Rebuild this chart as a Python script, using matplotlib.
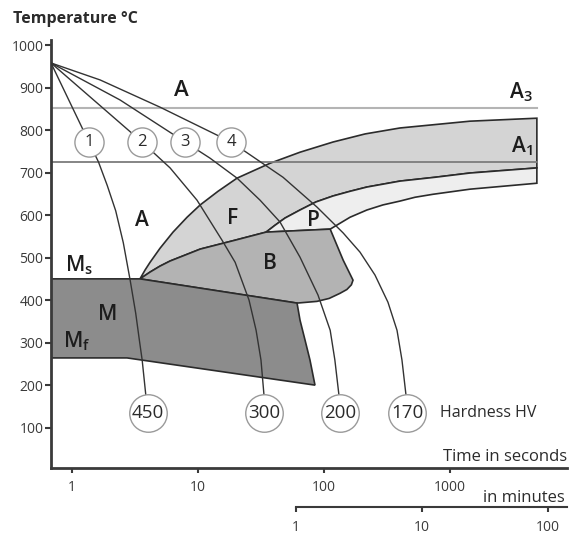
import matplotlib
matplotlib.use('Agg')
import matplotlib.pyplot as plt

plt.rcParams['font.family'] = ['Open Sans', 'DejaVu Sans']
plt.rcParams['mathtext.default'] = 'regular'

# --- data: time in s, temperature in degC ---
t_start, T_start = 0.68, 958

curve1_t = [t_start, 1.36, 1.62, 1.90, 2.22, 2.55, 2.89, 3.20, 3.42, 3.60, 3.85, 4.01]
curve1_T = [T_start, 772, 725, 670, 610, 535, 447, 369, 306, 259, 176, 134]
curve2_t = [t_start, 3.59, 6.0, 9.82, 15.5, 19.7, 25.4, 28.9, 31.6, 33.4, 33.4]
curve2_T = [T_start, 772, 711, 635, 541, 489, 400, 329, 259, 176, 134]
curve3_t = [t_start, 2.40, 7.88, 12.45, 20.4, 31.1, 44.7, 64.5, 89.6, 112, 122, 131.5, 134]
curve3_T = [T_start, 871, 772, 734, 687, 635, 584, 501, 412, 329, 259, 176, 134]
curve4_t = [t_start, 1.67, 4.99, 18.3, 22.8, 47.3, 87.9, 142, 193, 254, 322, 380, 416, 448, 456]
curve4_T = [T_start, 918, 854, 772, 753, 689, 619, 558, 513, 459, 395, 329, 259, 176, 134]

curve_labels = ['1', '2', '3', '4']
curve_label_t = [1.36, 3.59, 7.88, 18.3]
curve_label_T = 772

hardness = ['450', '300', '200', '170']
hardness_t = [4.01, 33.4, 134, 456]
hardness_T = 134

A3_temp = 852
A1_temp = 725
t_end = 4900

# ferrite start (upper edge of band)
fs_t = [3.46, 3.80, 4.16, 4.99, 6.33, 8.18, 10.4, 14.4, 20.4, 28.3, 37.3, 64.5, 118,
        212, 401, 1442, 4900]
fs_T = [450, 471, 489, 522, 560, 595, 624, 656, 687, 706, 722, 748, 772,
        791, 805, 821, 828]
# pearlite start
ps_t = [34.7, 40.8, 49.0, 64.5, 86.4, 118, 161, 219, 401, 761, 1442, 4900]
ps_T = [560, 576, 593, 612, 631, 645, 656, 666, 680, 689, 699, 711]
# pearlite finish
pf_t = [112, 161, 219, 294, 401, 528, 733, 1442, 4900]
pf_T = [567, 595, 612, 624, 633, 642, 649, 661, 675]
# bainite upper edge
bt_t = [3.46, 4.16, 4.99, 6.0, 10.4, 19.7, 34.7, 112]
bt_T = [450, 466, 480, 492, 520, 541, 560, 567]
# bainite right edge down to martensite corner
br_t = [112, 142, 170, 165, 152, 134, 110, 87.9, 61.1]
br_T = [567, 494, 447, 436, 425, 416, 404, 397, 393]
# martensite region
Ms_temp = 450
Mf_temp = 264
m_top_t = [3.46, 61.1]
m_top_T = [450, 393]
m_right_t = [61.1, 64.5, 70.7, 77.4, 84.8]
m_right_T = [393, 353, 306, 259, 200]
m_bot_t = [84.8, 2.73]
m_bot_T = [200, 264]

xmin, xmax = 0.68, 8500
edge = '#2b2b2b'
txt = '#2b2b2b'
lab_col = '#1c1c1c'

fig = plt.figure(figsize=(5.71, 5.34), dpi=100)
ax = fig.add_axes([51 / 571, 66 / 534, 516 / 571, 428 / 534])
ax.set_xscale('log')
ax.set_xlim(xmin, xmax)
ax.set_ylim(5, 1012)

# ferrite band: ferrite start, right edge, pearlite start back, bainite top back
n_bt = bt_t.index(34.7) + 1
band_t = fs_t + ps_t[::-1] + bt_t[:n_bt][::-1]
band_T = fs_T + ps_T[::-1] + bt_T[:n_bt][::-1]
ax.fill(band_t, band_T, facecolor='#d4d4d4', edgecolor=edge, lw=1.2, zorder=1)

# pearlite region
p_t = ps_t + pf_t[::-1] + [ps_t[0]]
p_T = ps_T + pf_T[::-1] + [ps_T[0]]
ax.fill(p_t, p_T, facecolor='#eeeeee', edgecolor=edge, lw=1.2, zorder=1)

# bainite
b_t = bt_t + br_t[1:] + m_top_t[::-1]
b_T = bt_T + br_T[1:] + m_top_T[::-1]
ax.fill(b_t, b_T, facecolor='#b3b3b3', edgecolor=edge, lw=1.2, zorder=1.2)

# martensite
m_t = [xmin] + m_top_t + m_right_t[1:] + m_bot_t[1:] + [xmin]
m_T = [Ms_temp] + m_top_T + m_right_T[1:] + m_bot_T[1:] + [Mf_temp]
ax.fill(m_t, m_T, facecolor='#8c8c8c', edgecolor=edge, lw=1.2, zorder=1.4)

# A3 / A1
ax.plot([xmin, t_end], [A3_temp, A3_temp], color='#b4b4b4', lw=1.5, zorder=2)
ax.plot([xmin, t_end], [A1_temp, A1_temp], color='#7c7c7c', lw=1.3, zorder=2)

# cooling curves
for ct, cT in [(curve1_t, curve1_T), (curve2_t, curve2_T),
               (curve3_t, curve3_T), (curve4_t, curve4_T)]:
    ax.plot(ct, cT, color='#333333', lw=1.0, zorder=3, solid_joinstyle='round')

for lab, t in zip(curve_labels, curve_label_t):
    ax.plot(t, curve_label_T, 'o', ms=21, mfc='white', mec='#9a9a9a', mew=1.0, zorder=4)
    ax.text(t, curve_label_T, lab, ha='center', va='center', fontsize=12, color=txt, zorder=5)

for lab, t in zip(hardness, hardness_t):
    ax.plot(t, hardness_T, 'o', ms=27, mfc='white', mec='#9a9a9a', mew=1.0, zorder=4)
    ax.text(t, hardness_T, lab, ha='center', va='center', fontsize=13.5, color=txt, zorder=5)
ax.text(833, hardness_T, 'Hardness HV', ha='left', va='center', fontsize=11.5, color=txt)

# region labels
big = dict(fontsize=15, color=lab_col, ha='center', va='center', fontweight='semibold')
ax.text(7.33, 894, 'A', fontsize=16, color=lab_col, ha='center', va='center',
        fontweight='semibold')
ax.text(3.6, 588, 'A', **big)
ax.text(18.9, 591, 'F', **big)
ax.text(81.8, 588, 'P', **big)
ax.text(37.3, 485, 'B', **big)
ax.text(1.90, 365, 'M', **big)
sub = dict(fontsize=15, color=lab_col, fontweight='semibold', va='baseline')
ax.text(0.88, 468, 'M$_s$', ha='left', **sub)
ax.text(0.85, 289, 'M$_f$', ha='left', **sub)
ax.text(4560, 875, 'A$_3$', ha='right', **sub)
ax.text(4560, 748, 'A$_1$', ha='right', **sub)

# axes styling
for s in ['top', 'right']:
    ax.spines[s].set_visible(False)
for s in ['left', 'bottom']:
    ax.spines[s].set_linewidth(2)
    ax.spines[s].set_color('#3a3a3a')
ax.set_yticks(range(100, 1001, 100))
ax.set_xticks([1, 10, 100, 1000])
ax.set_xticklabels(['1', '10', '100', '1000'])
ax.minorticks_off()
ax.tick_params(axis='y', length=4, width=1.5, pad=1.5, labelsize=10, colors='#3a3a3a')
ax.tick_params(axis='x', length=3.5, width=1.5, pad=5, labelsize=10, colors='#3a3a3a')

# minutes axis
ax2 = fig.add_axes([51 / 571, 27 / 534, 516 / 571, 0.0001])
ax2.set_xscale('log')
ax2.set_xlim(xmin / 60, xmax / 60)
ax2.patch.set_visible(False)
for s in ['top', 'right', 'left']:
    ax2.spines[s].set_visible(False)
ax2.spines['bottom'].set_bounds(1, xmax / 60)
ax2.spines['bottom'].set_linewidth(1.5)
ax2.spines['bottom'].set_color('#3a3a3a')
ax2.set_yticks([])
ax2.set_xticks([1, 10, 100])
ax2.set_xticklabels(['1', '10', '100'])
ax2.minorticks_off()
ax2.tick_params(axis='x', length=3.5, width=1.5, pad=6, labelsize=10, colors='#3a3a3a')

fig.text(13 / 571, 1 - 19 / 534, 'Temperature °C', fontsize=11.5, fontweight='bold',
         color='#2b2b2b', ha='left', va='center')
fig.text(567 / 571, 1 - 457 / 534, 'Time in seconds', fontsize=12, color=txt,
         ha='right', va='center')
fig.text(565 / 571, 1 - 498 / 534, 'in minutes', fontsize=12, color=txt,
         ha='right', va='center')

fig.savefig('out.png', dpi=100)
